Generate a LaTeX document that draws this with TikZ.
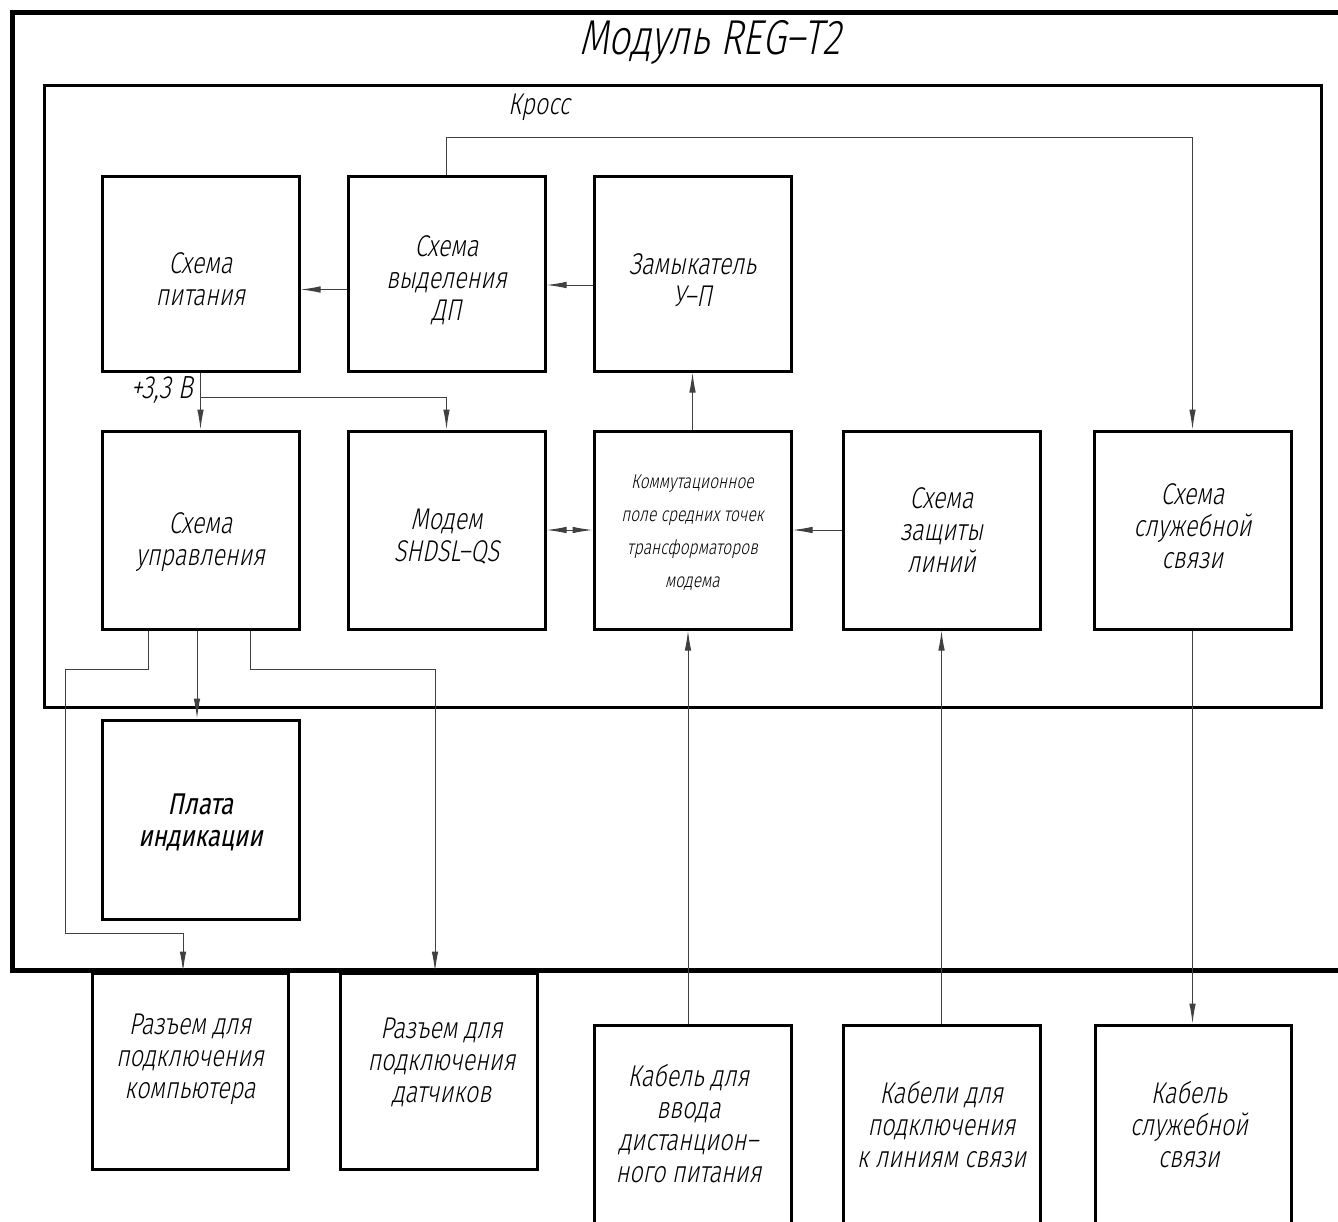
\documentclass[tikz,border=0pt]{standalone}
\usepackage{fontspec}
\newfontfamily\gost[FakeSlant=0.2,FakeStretch=0.78]{Fira Sans Light}
\newfontfamily\gostb[FakeSlant=0.2,FakeStretch=0.8]{Fira Sans}
\usetikzlibrary{arrows.meta,calc}
\tikzset{
  txt/.style={align=center, inner sep=0pt, font=\gost\fontsize{30}{32}\selectfont},
  blk/.style={draw=black, line width=3pt, minimum width=197pt, minimum height=197pt, inner sep=0pt},
  wire/.style={draw=black!75, line width=1pt},
  tip/.tip={Latex[length=20pt,width=6.5pt]},
  arr/.style={wire, -tip},
  darr/.style={wire, tip-tip},
  outerframe/.style={draw=black, line width=5pt},
  innerframe/.style={draw=black, line width=3pt}
}
\begin{document}
\begin{tikzpicture}[x=1pt,y=-1pt]
\useasboundingbox (0,0) rectangle (1338,1221);
\fill[white] (0,0) rectangle (1338,1221);
% frames
\draw[outerframe] (12,12) rectangle (1390,970);
\draw[innerframe] (44,85) rectangle (1321,707);
\node[txt, font=\gost\fontsize{49}{50}\selectfont] (title) at (710,42) {Модуль REG–T2};
\node[txt] (kross) at (539,107) {Кросс};
% row 1
\node[blk, minimum height=195pt, label={[txt,yshift=-6pt]center:{Схема\\питания}}] (pit) at (200.5,273.5) {};
\node[blk, minimum height=195pt, label={[txt,yshift=-7pt]center:{Схема\\выделения\\ДП}}] (vyd) at (446.5,273.5) {};
\node[blk, minimum height=195pt, label={[txt,yshift=-7pt]center:{Замыкатель\\У–П}}] (zam) at (692.5,273.5) {};
% row 2
\node[blk, minimum height=198pt, label={[txt,yshift=-12pt]center:{Схема\\управления}}] (upr) at (200.5,530) {};
\node[blk, minimum height=198pt, label={[txt,yshift=-7pt]center:{Модем\\SHDSL–QS}}] (mod) at (446.5,530) {};
\node[blk, minimum height=198pt, label={[txt,yshift=-3pt,font=\gost\fontsize{20}{33}\selectfont]center:{Коммутационное\\поле средних точек\\трансформаторов\\модема}}] (kom) at (692.5,530) {};
\node[blk, minimum height=198pt, label={[txt]center:{Схема\\защиты\\линий}}] (zash) at (941.5,530) {};
\node[blk, minimum height=198pt, label={[txt,yshift=4pt]center:{Схема\\служебной\\связи}}] (sluzh) at (1192.5,530) {};
% indication board
\node[blk, minimum height=199pt, label={[txt,yshift=-3pt,font=\gostb\fontsize{30}{32}\selectfont]center:{Плата\\индикации}}] (plata) at (200.5,819.5) {};
% bottom row
\node[blk, minimum width=196pt, minimum height=196pt, label={[txt,yshift=12pt]center:{Разъем для\\подключения\\компьютера}}] (pc) at (190,1071) {};
\node[blk, minimum height=196pt, label={[txt,xshift=3pt,yshift=9pt]center:{Разъем для\\подключения\\датчиков}}] (dat) at (438.5,1071) {};
\node[blk, minimum height=215pt, label={[txt,xshift=-4pt,yshift=9pt]center:{Кабель для\\ввода\\дистанцион–\\ного питания}}] (kab1) at (692.5,1132.5) {};
\node[blk, minimum height=215pt, label={[txt,yshift=8pt]center:{Кабели для\\подключения\\к линиям связи}}] (kab2) at (941.5,1132.5) {};
\node[blk, minimum width=196pt, minimum height=215pt, label={[txt,xshift=-4pt,yshift=8pt]center:{Кабель\\служебной\\связи}}] (kab3) at (1193,1132.5) {};
% connectors
\draw[arr] ([yshift=-16pt]vyd.west) -- ([yshift=-16pt]pit.east);
\draw[arr] ([yshift=-11.5pt]zam.west) -- ([yshift=-11.5pt]vyd.east);
\draw[arr] (vyd.north) -- ++(0,-37) -| (sluzh.north);
\draw[arr] (pit.south) -- (upr.north);
\coordinate (j33) at (200.5,397);
\draw[arr] (j33) -| (mod.north);
\node[txt, anchor=east, font=\gost\fontsize{32}{34}\selectfont] (v33) at (193,390) {+3,3 В};
\draw[arr] (kom.north) -- (zam.south);
\draw[darr] (mod.east) -- (kom.west);
\draw[arr] (zash.west) -- (kom.east);
\draw[arr] ([xshift=-52.5pt]upr.south) -- ++(0,39) -- ++(-83,0) -- ++(0,264) -| ([xshift=-7pt]pc.north);
\draw[arr] ([xshift=-3.5pt]upr.south) -- ([xshift=-3.5pt]plata.north);
\draw[arr] ([xshift=49.5pt]upr.south) -- ++(0,39) -| ([xshift=-3.5pt]dat.north);
\draw[arr] ([xshift=-4.5pt]kab1.north) -- ([xshift=-4.5pt]kom.south);
\draw[arr] (kab2.north) -- (zash.south);
\draw[arr] (sluzh.south) -- (sluzh.south |- kab3.north);
\end{tikzpicture}
\end{document}
